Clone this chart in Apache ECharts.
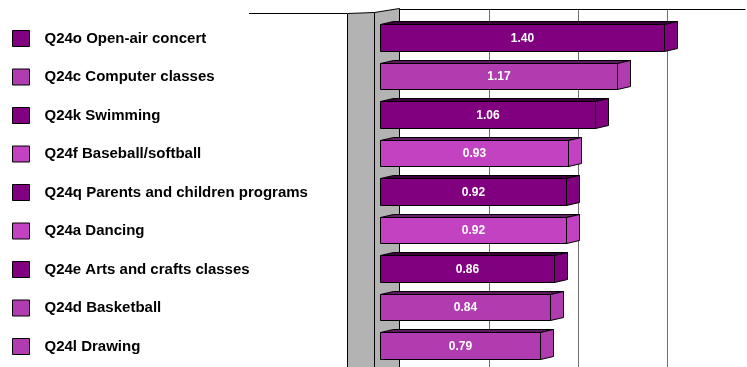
<!DOCTYPE html>
<html>
<head>
<meta charset="utf-8">
<script src="https://cdn.jsdelivr.net/npm/echarts@6/dist/echarts.min.js"></script>
<style>
  html, body { margin: 0; padding: 0; background: #fff; }
  #chart { width: 747px; height: 367px; }
</style>
</head>
<body>
<div id="chart"></div>
<script>
// Activity ratings, top to bottom
var categories = [
  'Q24o Open-air concert',
  'Q24c Computer classes',
  'Q24k Swimming',
  'Q24f Baseball/softball',
  'Q24q Parents and children programs',
  'Q24a Dancing',
  'Q24e Arts and crafts classes',
  'Q24d Basketball',
  'Q24l Drawing'
];
var values = [1.40, 1.17, 1.06, 0.93, 0.92, 0.92, 0.86, 0.84, 0.79];
var labels = ['1.40', '1.17', '1.06', '0.93', '0.92', '0.92', '0.86', '0.84', '0.79'];
var gridInterval = 0.5;

// pixels per unit on the back wall and on the front plane (perspective)
var BACK_LEFT = 399.5, BACK_PX = 178.6;
var FRONT_LEFT = 379.5, FRONT_PX = 203;
var WIDTH = 747;

// face colours per bar: front, top
var palette = {
  dark:    { front: '#800080', top: '#3d003d' },
  light:   { front: '#b03cb0', top: '#5e1a5e' },
  lighter: { front: '#c242c2', top: '#662066' }
};
var barTone = ['dark', 'light', 'dark', 'lighter', 'dark', 'lighter', 'dark', 'light', 'light'];

var DX = 13, DY = -3; // depth offset of the bar boxes

function renderBox(params, api) {
  var idx = params.seriesIndex;
  var tone = palette[barTone[idx]];
  var v = api.value(0);
  var cat = api.value(1);
  var p0 = api.coord([0, cat]);
  var p1 = api.coord([v, cat]);
  var h = api.size([0, 1])[1] * 0.69;
  var x0 = Math.round(p0[0]) + 0.5, x1 = Math.round(p1[0]) + 0.5;
  var yT = Math.round(p0[1] - h / 2) + 0.5, yB = Math.round(p0[1] + h / 2) + 0.5;
  var stroke = { stroke: '#000', lineWidth: 1 };
  return {
    type: 'group',
    children: [
      { type: 'polygon', shape: { points: [[x0, yT], [x1, yT], [x1 + DX, yT + DY], [x0 + DX, yT + DY]] },
        style: Object.assign({ fill: tone.top }, stroke) },
      { type: 'polygon', shape: { points: [[x1, yT], [x1 + DX, yT + DY], [x1 + DX, yB + DY], [x1, yB]] },
        style: Object.assign({ fill: tone.front }, stroke) },
      { type: 'rect', shape: { x: x0, y: yT, width: x1 - x0, height: yB - yT },
        style: Object.assign({ fill: tone.front }, stroke) },
      { type: 'text', x: (x0 + x1) / 2, y: (yT + yB) / 2 + 0.5,
        style: { text: labels[idx], fill: '#fff', font: 'bold 12px "Liberation Sans", Arial, sans-serif',
                 align: 'center', verticalAlign: 'middle' } }
    ]
  };
}

var series = categories.map(function (name, i) {
  return {
    name: name,
    type: 'custom',
    xAxisIndex: 1,
    yAxisIndex: 1,
    z: 3,
    color: palette[barTone[i]].front,
    itemStyle: { color: palette[barTone[i]].front },
    renderItem: renderBox,
    encode: { x: 0, y: 1 },
    data: [[values[i], i]]
  };
});

var chart = echarts.init(document.getElementById('chart'));
chart.setOption({
  animation: false,
  backgroundColor: '#fff',
  legend: {
    orient: 'vertical',
    left: 12,
    top: 30,
    padding: 0,
    icon: 'rect',
    itemWidth: 17,
    itemHeight: 16,
    itemGap: 21.5,
    selectedMode: false,
    data: categories,
    itemStyle: { borderColor: '#000', borderWidth: 1 },
    textStyle: {
      color: '#000',
      fontFamily: '"Liberation Sans", Arial, sans-serif',
      fontWeight: 'bold',
      fontSize: 15,
      padding: [0, 0, 0, 10]
    }
  },
  grid: [
    // back wall of the plot: vertical gridlines
    { left: BACK_LEFT, right: 2, top: 9, bottom: 0 },
    // front plane where the bars sit
    { left: FRONT_LEFT, right: 0, top: 18.25, height: 346.5 }
  ],
  xAxis: [
    { gridIndex: 0, type: 'value', min: 0, max: (WIDTH - 2 - BACK_LEFT) / BACK_PX, interval: gridInterval,
      position: 'top',
      axisLine: { show: true, lineStyle: { color: '#000', width: 1 } },
      axisTick: { show: false }, axisLabel: { show: false },
      splitLine: { show: true, showMaxLine: false, lineStyle: { color: '#6e6e6e', width: 1 } } },
    { gridIndex: 1, type: 'value', min: 0, max: (WIDTH - FRONT_LEFT) / FRONT_PX, show: false, splitLine: { show: false } }
  ],
  yAxis: [
    { gridIndex: 0, type: 'category', data: categories, inverse: true, show: false },
    { gridIndex: 1, type: 'category', data: categories, inverse: true, show: false }
  ],
  graphic: [
    { type: 'line', z: 1, shape: { x1: 249, y1: 13.5, x2: 347, y2: 13.5 },
      style: { stroke: '#000', lineWidth: 1 } },
    { type: 'polygon', z: 1, shape: { points: [[347.5, 13.5], [374.5, 12.5], [374.5, 370], [347.5, 370]] },
      style: { fill: '#b3b3b3', stroke: '#000', lineWidth: 1 } },
    { type: 'polygon', z: 1, shape: { points: [[374.5, 12.5], [399.5, 8.5], [399.5, 370], [374.5, 370]] },
      style: { fill: '#b3b3b3', stroke: '#000', lineWidth: 1 } }
  ],
  series: series
});
</script>
</body>
</html>
